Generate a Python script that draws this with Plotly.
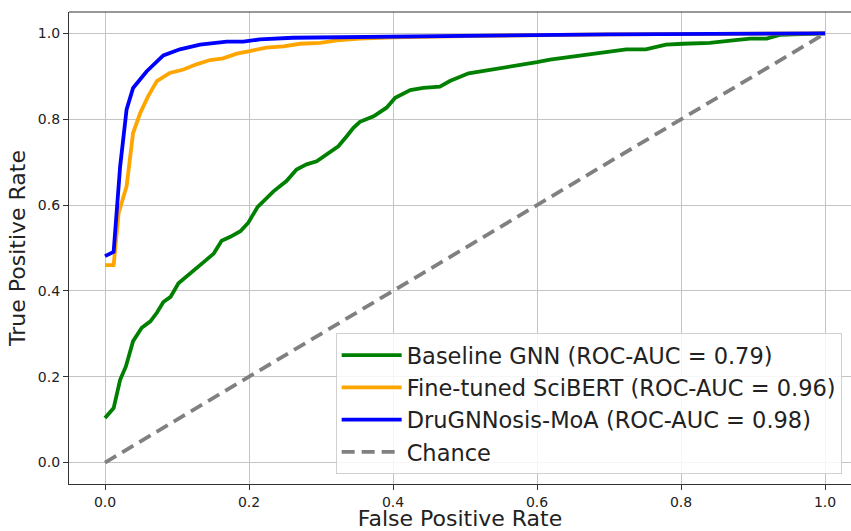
import plotly.graph_objects as go

# ROC points
gnn_fpr = [0.0, 0.012, 0.021, 0.029, 0.039, 0.051, 0.063, 0.072, 0.081, 0.091, 0.102, 0.111,
           0.123, 0.137, 0.151, 0.162, 0.174, 0.188, 0.199, 0.212, 0.234, 0.252, 0.266, 0.28,
           0.294, 0.308, 0.324, 0.336, 0.345, 0.354, 0.373, 0.391, 0.403, 0.424, 0.442, 0.465,
           0.479, 0.505, 0.525, 0.553, 0.572, 0.6, 0.618, 0.655, 0.683, 0.71, 0.724, 0.751,
           0.779, 0.803, 0.84, 0.872, 0.896, 0.919, 0.938, 0.956, 1.0]
gnn_tpr = [0.104, 0.127, 0.193, 0.224, 0.283, 0.314, 0.329, 0.349, 0.374, 0.386, 0.418, 0.43,
           0.448, 0.467, 0.487, 0.517, 0.526, 0.539, 0.559, 0.596, 0.632, 0.656, 0.683, 0.695,
           0.702, 0.718, 0.737, 0.761, 0.78, 0.794, 0.807, 0.827, 0.85, 0.868, 0.873, 0.876,
           0.889, 0.907, 0.912, 0.919, 0.925, 0.933, 0.939, 0.947, 0.953, 0.958, 0.963, 0.963,
           0.974, 0.976, 0.978, 0.984, 0.988, 0.988, 0.997, 0.998, 1.0]

scibert_fpr = [0.0, 0.012, 0.019, 0.03, 0.039, 0.049, 0.06, 0.072, 0.09, 0.109, 0.127, 0.146,
               0.164, 0.183, 0.201, 0.224, 0.248, 0.271, 0.299, 0.322, 0.354, 0.4, 0.5, 0.7, 1.0]
scibert_tpr = [0.46, 0.46, 0.582, 0.644, 0.768, 0.815, 0.854, 0.889, 0.908, 0.916, 0.928, 0.938,
               0.942, 0.953, 0.959, 0.967, 0.97, 0.976, 0.978, 0.984, 0.988, 0.991, 0.994, 0.998, 1.0]

moa_fpr = [0.0, 0.012, 0.021, 0.03, 0.039, 0.058, 0.081, 0.104, 0.132, 0.169, 0.192, 0.215,
           0.261, 0.354, 0.5, 0.7, 1.0]
moa_tpr = [0.481, 0.491, 0.69, 0.823, 0.873, 0.912, 0.949, 0.963, 0.974, 0.981, 0.981, 0.986,
           0.99, 0.992, 0.995, 0.998, 1.0]

chance = [0.0, 1.0]

labels = ["Baseline GNN (ROC-AUC = 0.79)",
          "Fine-tuned SciBERT (ROC-AUC = 0.96)",
          "DruGNNosis-MoA (ROC-AUC = 0.98)",
          "Chance"]

FONT = "DejaVu Sans"

fig = go.Figure()
series = [(gnn_fpr, gnn_tpr, "green"), (scibert_fpr, scibert_tpr, "orange"), (moa_fpr, moa_tpr, "blue")]
for i, (fx, ty, col) in enumerate(series):
    fig.add_trace(go.Scatter(x=fx, y=ty, mode="lines", name=labels[i], legendgroup=str(i),
                             line=dict(color=col, width=3.8)))
fig.add_trace(go.Scatter(x=chance, y=chance, mode="lines", name=labels[3], legendgroup="3",
                         line=dict(color="gray", width=3.8, dash="13px,7px")))

axis_common = dict(
    showgrid=True, gridcolor="#c4c4c4", gridwidth=1,
    zeroline=False, showline=True, linecolor="#333333", linewidth=1.2,
    ticks="outside", ticklen=5, tickcolor="#333333",
    tickfont=dict(family=FONT, size=14, color="#222222"),
    automargin=False,
)

fig.update_layout(
    width=851, height=531,
    margin=dict(l=69, r=0, t=12, b=47),
    paper_bgcolor="white", plot_bgcolor="white",
    font=dict(family=FONT, color="#222222"),
    xaxis=dict(range=[-0.05, 1.036], tickvals=[0, 0.2, 0.4, 0.6, 0.8, 1.0],
               ticktext=["0.0", "0.2", "0.4", "0.6", "0.8", "1.0"], mirror=False,
               title=dict(text="False Positive Rate", font=dict(family=FONT, size=22), standoff=11),
               **axis_common),
    yaxis=dict(range=[-0.05, 1.05], tickvals=[0, 0.2, 0.4, 0.6, 0.8, 1.0],
               ticktext=["0.0", "0.2", "0.4", "0.6", "0.8", "1.0"], mirror=False,
               title=dict(text="True Positive Rate", font=dict(family=FONT, size=22), standoff=6),
               **axis_common),
    # top spine only (the right one is cropped away in the reference)
    shapes=[dict(type="line", xref="paper", yref="paper", x0=0, x1=1, y0=1, y1=1,
                 line=dict(color="#333333", width=1.2))],
    legend=dict(x=0.341, y=0.32, xanchor="left", yanchor="top",
                bgcolor="rgba(255,255,255,0.85)", bordercolor="#d0d0d0", borderwidth=1,
                font=dict(family=FONT, size=22.5, color="#222222"),
                tracegroupgap=0, itemwidth=60),
    showlegend=True,
)

fig.write_html("out.html", config={"displayModeBar": False},
               post_script="document.body.style.margin='0';document.body.style.overflow='hidden';")
